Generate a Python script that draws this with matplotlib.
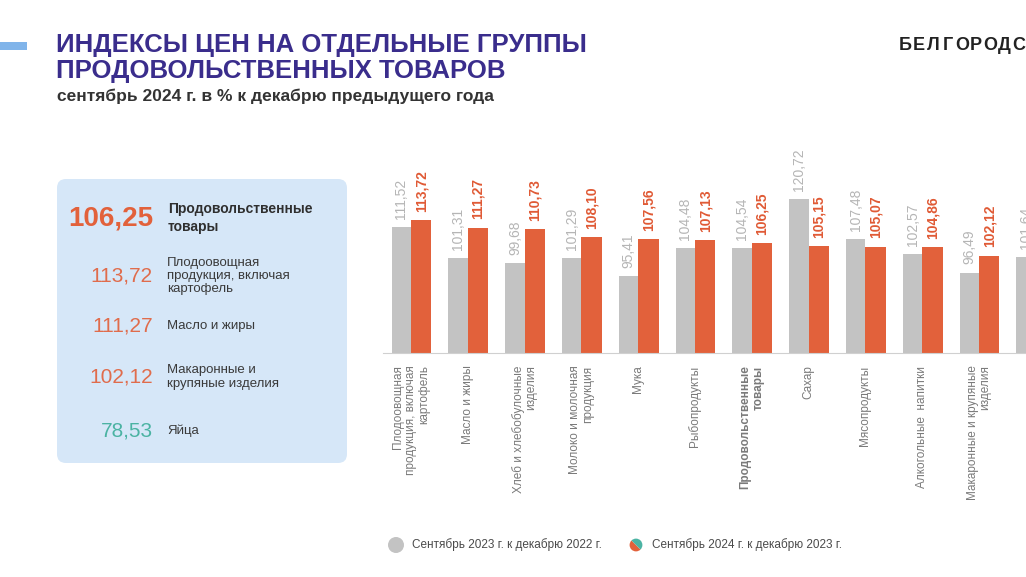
import numpy as np
import matplotlib.pyplot as plt
from matplotlib.patches import FancyBboxPatch, Circle

plt.rcParams['font.family'] = ['Liberation Sans', 'DejaVu Sans']

# данные
categories = ['Плодоовощная\nпродукция, включая\nкартофель', 'Масло и жиры',
              'Хлеб и хлебобулочные\nизделия', 'Молоко и молочная\nпродукция', 'Мука',
              'Рыбопродукты', 'Продовольственные\nтовары', 'Сахар', 'Мясопродукты',
              'Алкогольные  напитки', 'Макаронные и крупяные\nизделия', '']
sep_2023 = [111.52, 101.31, 99.68, 101.29, 95.41, 104.48, 104.54, 120.72, 107.48, 102.57, 96.49, 101.64]
sep_2024 = [113.72, 111.27, 110.73, 108.10, 107.56, 107.13, 106.25, 105.15, 105.07, 104.86, 102.12]

panel_values = ['106,25', '113,72', '111,27', '102,12', '78,53']
panel_labels = ['Продовольственные\nтовары', 'Плодоовощная\nпродукция, включая\nкартофель',
                'Масло и жиры', 'Макаронные и\nкрупяные изделия', 'Яйца']

legend_labels = ['Сентябрь 2023 г. к декабрю 2022 г.', 'Сентябрь 2024 г. к декабрю 2023 г.']

GREY = '#c3c3c3'
ORANGE = '#e2613b'
TEAL = '#4bb3a3'
W, H = 1026, 577

fig = plt.figure(figsize=(W / 100, H / 100), dpi=100)

# фон в пикселях
bg = fig.add_axes([0, 0, 1, 1])
bg.set_xlim(0, W)
bg.set_ylim(H, 0)
bg.axis('off')

bg.add_patch(plt.Rectangle((0, 42), 27, 8, color='#80b4ea', lw=0))
bg.text(56, 45, 'ИНДЕКСЫ ЦЕН НА ОТДЕЛЬНЫЕ ГРУППЫ', fontsize=18.5, fontweight='bold',
        color='#3a2d8c', va='center')
bg.text(56, 71, 'ПРОДОВОЛЬСТВЕННЫХ ТОВАРОВ', fontsize=18.5, fontweight='bold',
        color='#3a2d8c', va='center')
bg.text(57, 96, 'сентябрь 2024 г. в % к декабрю предыдущего года', fontsize=12.5,
        fontweight='bold', color='#333333', va='center')
for k, ch in enumerate('БЕЛГОРОДС'):
    bg.text(905 + 14.2 * k, 45, ch, fontsize=13, fontweight='bold', color='#222222',
            va='center', ha='center')

# левая панель
bg.add_patch(FancyBboxPatch((57, 179), 290, 284, boxstyle='round,pad=0,rounding_size=9',
                            fc='#d6e7f8', ec='none'))
ys = [218, 276, 326, 377, 431]
for i, (v, lab) in enumerate(zip(panel_values, panel_labels)):
    if i == 0:
        bg.text(153, ys[i], v, fontsize=20, fontweight='bold', color=ORANGE, ha='right', va='center')
        bg.text(168, ys[i], lab, fontsize=10, fontweight='bold', color='#2f2f2f', va='center',
                linespacing=1.45)
    else:
        c = TEAL if i == 4 else '#e06c4c'
        bg.text(153, ys[i], v, fontsize=15, color=c, ha='right', va='center')
        bg.text(167, ys[i], lab, fontsize=9.5, color='#3a3a3a', va='center', linespacing=1.12)

# легенда
bg.add_patch(Circle((396, 545), 8, color=GREY, lw=0))
bg.text(412, 545, legend_labels[0], fontsize=8.5, color='#4a4a4a', va='center')
lx = fig.add_axes([628 / W, 1 - 553 / H, 16 / W, 16 / H])
lx.pie([1, 1], colors=[ORANGE, TEAL], startangle=135, radius=1)
lx.set_aspect('equal')
bg.text(652, 545, legend_labels[1], fontsize=8.5, color='#4a4a4a', va='center')

# диаграмма
pitch = 56.8
ax = fig.add_axes([(411 - pitch / 2) / W, 1 - 353 / H, 12 * pitch / W, 182 / H])
ax.patch.set_alpha(0)
x = np.arange(len(sep_2023))
x2 = np.arange(len(sep_2024))
ax.bar(x - 0.34, sep_2023, width=0.34, align='edge', color=GREY)
ax.bar(x2, sep_2024, width=0.36, align='edge', color=ORANGE)
ax.set_xlim(-0.5, 11.5)
ax.set_ylim(70, 130)
for s in ['top', 'right', 'left']:
    ax.spines[s].set_visible(False)
ax.spines['bottom'].set_color('#d0d0d0')
ax.set_xticks([])
ax.set_yticks([])

for i, v in enumerate(sep_2023):
    ax.annotate(f'{v:.2f}'.replace('.', ','), (i - 0.17, v), xytext=(0, 6), textcoords='offset points',
                rotation=90, ha='center', va='bottom', fontsize=10, color='#b5b5b5', annotation_clip=False)
for i, v in enumerate(sep_2024):
    ax.annotate(f'{v:.2f}'.replace('.', ','), (i + 0.18, v), xytext=(0, 6), textcoords='offset points',
                rotation=90, ha='center', va='bottom', fontsize=10, color='#e05a35',
                fontweight='bold', annotation_clip=False)

for i, lab in enumerate(categories):
    ax.annotate(lab, (i, 0), xycoords=('data', 'axes fraction'), xytext=(0, -9),
                textcoords='offset points', rotation=90, ha='center', va='top',
                multialignment='right', fontsize=8.5, color='#7a7a7a', linespacing=1.1,
                fontweight='bold' if i == 6 else 'normal', annotation_clip=False)

fig.savefig('out.png', dpi=100)
